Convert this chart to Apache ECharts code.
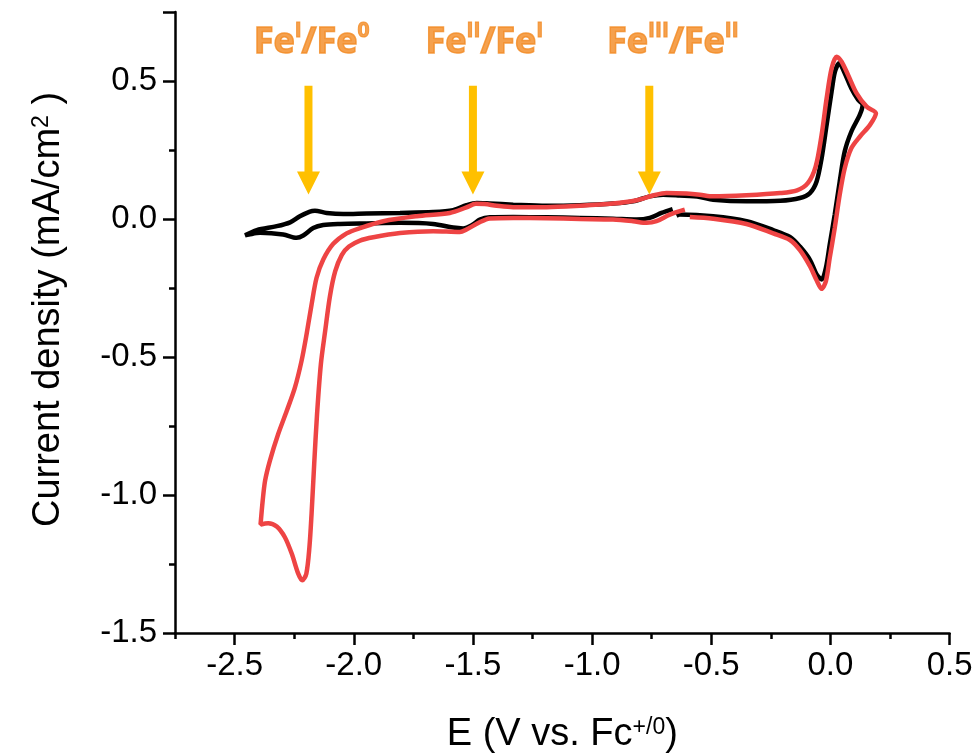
<!DOCTYPE html>
<html>
<head>
<meta charset="utf-8">
<script src="https://cdn.jsdelivr.net/npm/echarts@6/dist/echarts.min.js"></script>
<style>
  html, body { margin: 0; padding: 0; background: #fff; }
  #chart { width: 980px; height: 755px; }
</style>
</head>
<body>
<div id="chart"></div>
<script>
// Cyclic voltammograms: potential E (V vs. Fc+/0) and current density J (mA/cm2),
// listed in scan order.
const blackE = [-0.662, -0.709, -0.758, -0.813, -0.912, -1.051, -1.191, -1.331, -1.429, -1.471, -1.500, -1.541, -1.583, -1.667, -1.806, -1.946, -2.058, -2.128, -2.170, -2.212, -2.240, -2.296, -2.393, -2.440, -2.456,
  -2.407, -2.323, -2.267, -2.226, -2.184, -2.163, -2.114, -2.044, -1.946, -1.806, -1.667, -1.583, -1.527, -1.484, -1.429, -1.331, -1.191, -1.051, -0.912, -0.828, -0.758, -0.702, -0.633, -0.548, -0.492, -0.352, -0.211, -0.128, -0.086, -0.058, -0.037, -0.016, 0.005, 0.019, 0.037, 0.060, 0.088, 0.116, 0.135,
  0.123, 0.088, 0.060, 0.039, 0.018, -0.003, -0.019, -0.037, -0.058, -0.086, -0.128, -0.170, -0.240, -0.352, -0.492, -0.632, -0.646];
const blackJ = [0.036, 0.022, 0.004, -0.002, 0.001, 0.004, 0.006, 0.007, 0.006, -0.002, -0.020, -0.034, -0.031, -0.018, -0.014, -0.016, -0.018, -0.022, -0.033, -0.060, -0.068, -0.056, -0.050, -0.056, -0.059,
  -0.040, -0.026, -0.012, 0.010, 0.027, 0.030, 0.022, 0.018, 0.020, 0.022, 0.025, 0.032, 0.050, 0.058, 0.056, 0.052, 0.048, 0.050, 0.056, 0.064, 0.082, 0.088, 0.085, 0.080, 0.070, 0.064, 0.066, 0.076, 0.094, 0.136, 0.220, 0.341, 0.462, 0.534, 0.564, 0.528, 0.473, 0.432, 0.413,
  0.377, 0.317, 0.245, 0.136, 0.016, -0.093, -0.177, -0.219, -0.201, -0.148, -0.100, -0.065, -0.040, -0.008, 0.010, 0.016, 0.012];

const redE = [-0.611, -0.674, -0.730, -0.771, -0.828, -0.912, -1.051, -1.191, -1.331, -1.430, -1.470, -1.527, -1.555, -1.667, -1.806, -1.918, -1.974, -2.020, -2.050, -2.078, -2.100, -2.120, -2.138, -2.154, -2.166, -2.177, -2.186, -2.199, -2.216, -2.233, -2.260, -2.289, -2.323, -2.359, -2.391,
  -2.382, -2.372, -2.352, -2.317, -2.281, -2.247, -2.219, -2.198, -2.177, -2.156, -2.128, -2.086, -2.030, -1.974, -1.876, -1.736, -1.597, -1.527, -1.488, -1.450, -1.400, -1.331, -1.191, -1.051, -0.912, -0.813, -0.744, -0.688, -0.604, -0.548, -0.492, -0.352, -0.211, -0.140, -0.095, -0.062, -0.037, -0.016, 0.005, 0.026, 0.047, 0.074, 0.110, 0.152, 0.191,
  0.166, 0.124, 0.088, 0.060, 0.039, 0.018, -0.003, -0.019, -0.037, -0.058, -0.086, -0.128, -0.170, -0.240, -0.352, -0.492, -0.590];
const redJ = [0.034, 0.016, -0.008, -0.014, -0.008, -0.002, 0.000, 0.003, 0.004, 0.002, -0.011, -0.038, -0.047, -0.044, -0.051, -0.066, -0.078, -0.100, -0.130, -0.190, -0.280, -0.406, -0.526, -0.707, -0.888, -1.068, -1.189, -1.285, -1.309, -1.285, -1.213, -1.153, -1.114, -1.102, -1.107,
  -1.020, -0.948, -0.876, -0.779, -0.695, -0.611, -0.514, -0.418, -0.310, -0.213, -0.147, -0.090, -0.052, -0.033, -0.008, 0.010, 0.022, 0.042, 0.055, 0.054, 0.048, 0.043, 0.043, 0.048, 0.056, 0.068, 0.085, 0.094, 0.092, 0.088, 0.082, 0.086, 0.094, 0.104, 0.130, 0.190, 0.305, 0.437, 0.546, 0.588, 0.570, 0.522, 0.455, 0.407, 0.383,
  0.341, 0.299, 0.257, 0.184, 0.088, -0.033, -0.141, -0.225, -0.253, -0.222, -0.171, -0.113, -0.076, -0.052, -0.018, 0.001, 0.007];

// Redox couple annotations: arrow position and label text
const coupleE = [-2.19, -1.50, -0.76];
const arrowStartJ = 0.483;
const arrowTipJ = 0.089;
const coupleLabelE = [-2.177, -1.452, -0.661];
const coupleLabelJ = 0.639;
const coupleLabels = ['{b|Fe}{s|I}{b|/Fe}{s|0}', '{b|Fe}{s|II}{b|/Fe}{s|I}', '{b|Fe}{s|III}{b|/Fe}{s|II}'];

// Axis ticks
const xTicks = [-2.5, -2.0, -1.5, -1.0, -0.5, 0.0, 0.5];
const xMin = -2.75, xMax = 0.5;
const yMin = -1.5, yMax = 0.75;

const zip = (a, b) => a.map((v, i) => [v, b[i]]);

const AXIS_FONT = 'Liberation Sans, Arial, sans-serif';
const ORANGE = '#F38A22';
const GOLD = '#FFC000';

const chart = echarts.init(document.getElementById('chart'), null, { renderer: 'canvas' });

const option = {
  backgroundColor: '#fff',
  animation: false,
  grid: { left: 175, right: 30.4, top: 12, bottom: 122, containLabel: false, outerBoundsMode: 'none' },
  xAxis: [
    {
      type: 'value', min: xMin, max: xMax,
      name: 'E (V vs. Fc{sup|+/0})',
      nameLocation: 'middle', nameGap: 83,
      nameTextStyle: {
        fontFamily: AXIS_FONT, fontSize: 38, color: '#000',
        rich: { sup: { fontFamily: AXIS_FONT, fontSize: 23, verticalAlign: 'top', color: '#000' } }
      },
      axisLine: { show: true, onZero: false, lineStyle: { color: '#000', width: 2.5 } },
      axisTick: { show: true, inside: false, length: 12, customValues: xTicks, lineStyle: { color: '#000', width: 2.5 } },
      axisLabel: {
        show: true, customValues: xTicks, margin: 16,
        fontFamily: AXIS_FONT, fontSize: 33, color: '#000',
        formatter: v => v.toFixed(1)
      },
      splitLine: { show: false }
    },
    {
      // minor ticks every 0.25 V along the bottom edge
      type: 'value', min: xMin, max: xMax, interval: 0.25, position: 'bottom',
      axisLine: { show: false, onZero: false },
      axisTick: { show: true, inside: false, length: 6, lineStyle: { color: '#000', width: 2.5 } },
      axisLabel: { show: false },
      splitLine: { show: false }
    }
  ],
  yAxis: {
    type: 'value', min: yMin, max: yMax, interval: 0.5,
    name: 'Current density (mA/cm{sup|2} )',
    nameLocation: 'middle', nameGap: 107, nameRotate: 90,
    nameTextStyle: {
      fontFamily: AXIS_FONT, fontSize: 38, color: '#000', padding: [0, 0, 0, 26],
      rich: { sup: { fontFamily: AXIS_FONT, fontSize: 23, verticalAlign: 'top', color: '#000' } }
    },
    axisLine: { show: true, onZero: false, lineStyle: { color: '#000', width: 2.5 } },
    axisTick: { show: true, inside: false, length: 12, lineStyle: { color: '#000', width: 2.5 } },
    minorTick: { show: true, splitNumber: 2, length: 6, lineStyle: { color: '#000', width: 2.5 } },
    axisLabel: {
      show: true, margin: 18, showMaxLabel: false,
      fontFamily: AXIS_FONT, fontSize: 33, color: '#000',
      formatter: v => (Math.abs(v - yMax) < 1e-9 ? '' : v.toFixed(1))
    },
    splitLine: { show: false }
  },
  series: [
    {
      name: 'black', type: 'line', xAxisIndex: 0,
      data: zip(blackE, blackJ),
      showSymbol: false, smooth: 0.3,
      lineStyle: { color: '#000000', width: 4.5 },
      z: 2
    },
    {
      name: 'red', type: 'line', xAxisIndex: 0,
      data: zip(redE, redJ),
      showSymbol: false, smooth: 0.3,
      lineStyle: { color: '#EE4444', width: 4.5 },
      z: 3
    },
    {
      name: 'arrows', type: 'custom', xAxisIndex: 0,
      data: coupleE.map(e => [e, arrowStartJ, arrowTipJ]),
      renderItem: (params, api) => {
        const top = api.coord([api.value(0), api.value(1)]);
        const tip = api.coord([api.value(0), api.value(2)]);
        const headH = 23, headW = 23, shaftW = 8;
        return {
          type: 'group',
          children: [
            { type: 'rect', shape: { x: top[0] - shaftW / 2, y: top[1], width: shaftW, height: tip[1] - headH - top[1] + 1 }, style: { fill: GOLD } },
            { type: 'polygon', shape: { points: [[tip[0] - headW / 2, tip[1] - headH], [tip[0] + headW / 2, tip[1] - headH], [tip[0], tip[1]]] }, style: { fill: GOLD } }
          ]
        };
      },
      z: 4
    },
    {
      name: 'couples', type: 'scatter', xAxisIndex: 0,
      data: coupleLabelE.map((e, i) => ({ value: [e, coupleLabelJ], label: { formatter: coupleLabels[i] } })),
      symbolSize: 0,
      label: {
        show: true, position: 'inside',
        rich: {
          b: { fontFamily: 'Open Sans', fontWeight: 'bold', fontSize: 36, color: ORANGE, lineHeight: 44,
               textBorderColor: ORANGE, textBorderWidth: 1.5 },
          s: { fontFamily: 'Open Sans', fontWeight: 'bold', fontSize: 21, color: ORANGE, verticalAlign: 'top', lineHeight: 30,
               textBorderColor: ORANGE, textBorderWidth: 1 }
        }
      },
      z: 5
    }
  ]
};

chart.setOption(option);
</script>
</body>
</html>
